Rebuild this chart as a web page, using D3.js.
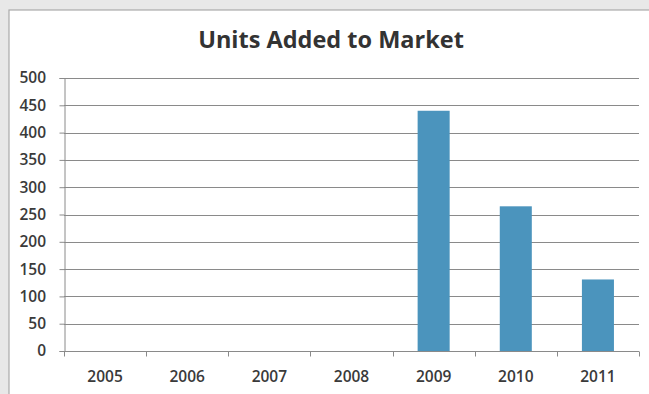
<!DOCTYPE html>
<html>
<head>
<meta charset="utf-8">
<script src="https://cdn.jsdelivr.net/npm/d3@7"></script>
<style>
  html, body { margin: 0; padding: 0; background: #fff; }
  svg { display: block; }
</style>
</head>
<body>
<svg id="chart" width="649" height="394"></svg>
<script>
// Units added to market per year
const years = ["2005", "2006", "2007", "2008", "2009", "2010", "2011"];
const units = [0, 0, 0, 0, 440, 265, 131];
const yTicks = [0, 50, 100, 150, 200, 250, 300, 350, 400, 450, 500];
const title = "Units Added to Market";

const W = 649, H = 394;
const margin = { left: 64, right: 10, top: 78, bottom: 43 };
const svg = d3.select("#chart");

// page surround and chart frame
svg.append("rect").attr("width", W).attr("height", H).attr("fill", "#e8e8e8");
svg.append("rect").attr("x", 9).attr("y", 10).attr("width", W + 10).attr("height", H + 10)
  .attr("fill", "#ffffff").attr("stroke", "#aaaaaa").attr("stroke-width", 1.2);

const x = d3.scaleBand().domain(years).range([margin.left, W - margin.right]).paddingInner(0.61).paddingOuter(0.305);
const y = d3.scaleLinear().domain([0, 500]).range([H - margin.bottom, margin.top]);

const font = "'Open Sans', Lato, sans-serif";
const tickFontSize = 15.5;

// title
svg.append("text")
  .attr("x", 331).attr("y", 48)
  .attr("text-anchor", "middle")
  .attr("font-family", font).attr("font-weight", "bold")
  .attr("font-size", 23.5).attr("fill", "#333")
  .text(title);

// horizontal gridlines
svg.append("g")
  .selectAll("line").data(yTicks.filter(d => d > 0)).join("line")
  .attr("x1", margin.left).attr("x2", W - margin.right)
  .attr("y1", d => Math.round(y(d)) + 0.5).attr("y2", d => Math.round(y(d)) + 0.5)
  .attr("stroke", "#8a8a8a").attr("stroke-width", 1);

// bars
svg.append("g")
  .selectAll("rect").data(years.map((yr, i) => ({ yr, v: units[i] })).filter(d => d.v > 0)).join("rect")
  .attr("x", d => x(d.yr)).attr("width", x.bandwidth())
  .attr("y", d => y(d.v)).attr("height", d => y(0) - y(d.v))
  .attr("fill", "#4b94bd");

// y axis
const yAxis = svg.append("g")
  .attr("transform", `translate(${margin.left + 0.5},0)`)
  .call(d3.axisLeft(y).tickValues(yTicks).tickSize(5).tickPadding(13.5));
yAxis.select(".domain").attr("stroke", "#8a8a8a");
yAxis.selectAll(".tick line").attr("stroke", "#8a8a8a");
yAxis.selectAll("text").attr("font-family", font).attr("font-weight", 600)
  .attr("font-size", tickFontSize).attr("fill", "#3a3a3a");

// x axis: tick marks sit on category boundaries
const xAxisG = svg.append("g").attr("transform", `translate(0,${Math.round(y(0)) + 0.5})`);
xAxisG.append("line")
  .attr("x1", margin.left).attr("x2", W - margin.right)
  .attr("stroke", "#8a8a8a");
const step = x.step();
xAxisG.selectAll("line.tk").data(d3.range(years.length + 1)).join("line")
  .attr("class", "tk")
  .attr("x1", i => Math.round(margin.left + i * step) + 0.5)
  .attr("x2", i => Math.round(margin.left + i * step) + 0.5)
  .attr("y1", 0).attr("y2", 5)
  .attr("stroke", "#8a8a8a");
xAxisG.selectAll("text").data(years).join("text")
  .attr("x", d => x(d) + x.bandwidth() / 2)
  .attr("y", 30)
  .attr("text-anchor", "middle")
  .attr("font-family", font).attr("font-weight", 600)
  .attr("font-size", tickFontSize).attr("fill", "#3a3a3a")
  .text(d => d);
</script>
</body>
</html>
